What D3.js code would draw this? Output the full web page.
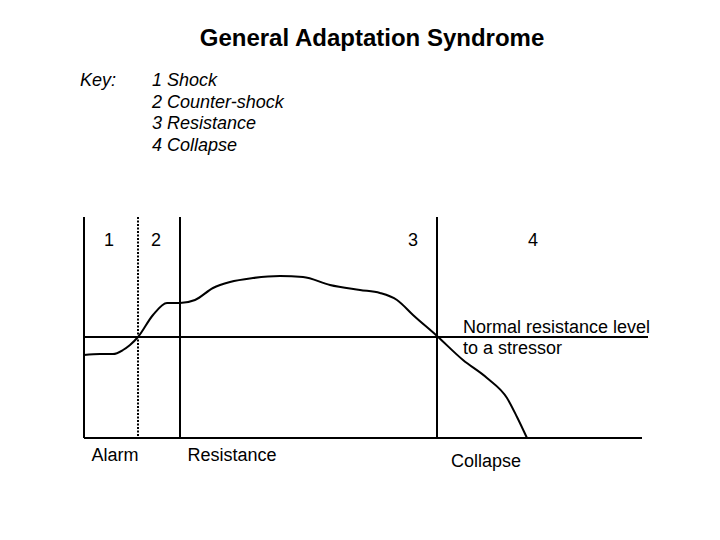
<!DOCTYPE html>
<meta charset="utf-8">
<style>
html, body { margin: 0; background: #fff; }
svg { display: block; font-family: "Liberation Sans", Arial, sans-serif; }
.line { fill: none; stroke: #000; stroke-width: 2; }
.key { font-style: italic; font-size: 18px; }
.lbl { font-size: 18px; }
</style>
<body>
<svg width="720" height="540"></svg>
<script src="https://d3js.org/d3.v7.min.js"></script>
<script>
"use strict";

var keyItems = ["1 Shock", "2 Counter-shock", "3 Resistance", "4 Collapse"];
var stageNumbers = ["1", "2", "3", "4"];
var stageNumberX = [25, 72, 329, 449];
var phaseLabels = ["Alarm", "Resistance", "Collapse"];
var phaseLabelX = [31, 148, 402];
// stage boundaries (time units); the first one is drawn dotted
var boundaries = [54, 96, 353];
var normalLevel = 101;
// resistance curve
var curveTime = [0, 16, 29, 39, 46, 54, 69, 83, 96, 111, 129, 146, 169, 196, 219, 246, 276, 296, 313, 329, 353, 379, 403, 423, 433, 443];
var curveLevel = [83, 84, 84, 88, 93, 101, 123, 135, 135, 138, 150, 156, 160, 162, 161, 153, 148, 145, 138, 123, 102, 78, 60, 40, 21, 0];

var svg = d3.select("svg");
var x = d3.scaleLinear().domain([0, 560]).range([84, 644]);
var y = d3.scaleLinear().domain([0, 221]).range([438, 217]);

svg.append("text")
  .attr("x", 372).attr("y", 46)
  .attr("text-anchor", "middle")
  .style("font-weight", "bold").style("font-size", "24px")
  .text("General Adaptation Syndrome");

svg.append("text").attr("class", "key")
  .attr("x", 80).attr("y", 86).text("Key:");

svg.selectAll(".keyitem").data(keyItems).enter().append("text")
  .attr("class", "key")
  .attr("x", 152)
  .attr("y", function(d, i) { return 86 + i * 21.7; })
  .text(function(d) { return d; });

// axes
svg.append("line").attr("class", "line")
  .attr("x1", x(0)).attr("x2", x(0)).attr("y1", y(221)).attr("y2", y(0));
svg.append("line").attr("class", "line")
  .attr("x1", x(0)).attr("x2", x(558)).attr("y1", y(0)).attr("y2", y(0));

svg.selectAll(".boundary").data(boundaries).enter().append("line")
  .attr("class", "line")
  .attr("x1", function(d) { return x(d); })
  .attr("x2", function(d) { return x(d); })
  .attr("y1", y(221)).attr("y2", y(0))
  .attr("stroke-dasharray", function(d, i) { return i === 0 ? "2,1.5" : null; });

svg.append("line").attr("class", "line")
  .attr("x1", x(0)).attr("x2", x(564))
  .attr("y1", y(normalLevel)).attr("y2", y(normalLevel));

var pts = curveTime.map(function(t, i) { return [t, curveLevel[i]]; });
svg.append("path").attr("class", "line")
  .attr("d", d3.line()
    .x(function(d) { return x(d[0]); })
    .y(function(d) { return y(d[1]); })
    .curve(d3.curveMonotoneX)(pts));

svg.selectAll(".stage").data(stageNumbers).enter().append("text")
  .attr("x", function(d, i) { return x(stageNumberX[i]); })
  .attr("y", 246)
  .attr("text-anchor", "middle")
  .style("font-size", "18px")
  .text(function(d) { return d; });

svg.selectAll(".phase").data(phaseLabels).enter().append("text")
  .attr("class", "lbl")
  .attr("x", function(d, i) { return x(phaseLabelX[i]); })
  .attr("y", function(d, i) { return i === 2 ? 467 : 461; })
  .attr("text-anchor", "middle")
  .text(function(d) { return d; });

svg.append("text").attr("class", "lbl")
  .attr("x", 463).attr("y", 333).text("Normal resistance level");
svg.append("text").attr("class", "lbl")
  .attr("x", 463).attr("y", 354).text("to a stressor");
</script>
</body>
